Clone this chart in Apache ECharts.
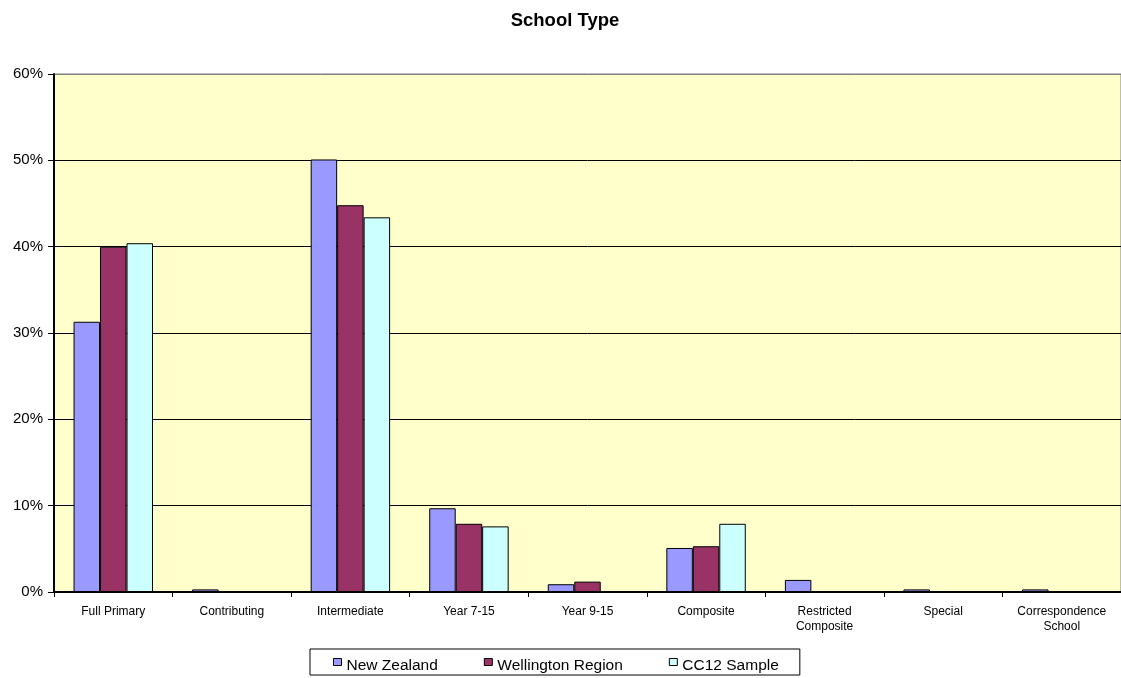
<!DOCTYPE html>
<html>
<head>
<meta charset="utf-8">
<script src="https://cdn.jsdelivr.net/npm/echarts@6/dist/echarts.min.js"></script>
<style>
  html, body { margin: 0; padding: 0; background: #ffffff; }
  #chart { width: 1121px; height: 678px; }
</style>
</head>
<body>
<div id="chart"></div>
<script>
// School type shares (percent of schools)
const categories = [
  'Full Primary', 'Contributing', 'Intermediate', 'Year 7-15', 'Year 9-15',
  'Composite', 'Restricted\nComposite', 'Special', 'Correspondence\nSchool'
];
const newZealand = [31.3, 0.3, 50.1, 9.7, 0.9, 5.1, 1.4, 0.3, 0.3];
const wellingtonRegion = [40.0, 0, 44.8, 7.9, 1.2, 5.3, 0, 0, 0];
const cc12Sample = [40.4, 0, 43.4, 7.6, 0, 7.9, 0, 0, 0];
const seriesNames = ['New Zealand', 'Wellington Region', 'CC12 Sample'];
const seriesColors = ['#9999FF', '#993366', '#CCFFFF'];
const yTicks = [0, 10, 20, 30, 40, 50, 60];

const font = '"Liberation Sans", Arial, sans-serif';

const chart = echarts.init(document.getElementById('chart'), null, { renderer: 'canvas' });

function barSeries(name, data, color) {
  return {
    name: name,
    type: 'bar',
    data: data,
    barGap: '0%',
    barCategoryGap: '33%',
    itemStyle: { color: color, borderColor: '#000000', borderWidth: 1 },
    emphasis: { disabled: true }
  };
}

chart.setOption({
  animation: false,
  backgroundColor: '#ffffff',
  title: {
    text: 'School Type',
    left: 565,
    textAlign: 'center',
    top: 11,
    padding: 0,
    textStyle: { fontFamily: font, fontSize: 18.5, fontWeight: 'bold', color: '#000000' }
  },
  grid: {
    left: 54,
    right: -1,
    top: 74,
    bottom: 86,
    show: true,
    backgroundColor: '#FFFFCC',
    borderColor: '#808080',
    borderWidth: 1
  },
  legend: {
    data: seriesNames,
    left: 310,
    top: 649,
    orient: 'horizontal',
    padding: [1, 21, 1, 23],
    itemGap: 46,
    itemWidth: 8,
    itemHeight: 7,
    borderColor: '#000000',
    borderWidth: 1,
    backgroundColor: '#ffffff',
    icon: 'rect',
    itemStyle: { borderColor: '#000000', borderWidth: 1 },
    formatter: '{t|{name}}',
    textStyle: {
      fontFamily: font, fontSize: 15.5, color: '#000000',
      rich: {
        t: {
          fontFamily: font, fontSize: 15.5, color: '#000000',
          lineHeight: 16, padding: [8, 0, 0, 0]
        }
      }
    },
    selectedMode: false
  },
  xAxis: {
    type: 'category',
    data: categories,
    boundaryGap: true,
    axisLine: { show: true, lineStyle: { color: '#000000', width: 2 } },
    axisTick: { show: true, length: 5, lineStyle: { color: '#000000', width: 1 } },
    axisLabel: {
      fontFamily: font, fontSize: 12, color: '#000000',
      margin: 12, lineHeight: 15, interval: 0
    },
    splitLine: { show: false }
  },
  yAxis: {
    type: 'value',
    min: yTicks[0],
    max: yTicks[yTicks.length - 1],
    interval: 10,
    axisLine: { show: true, lineStyle: { color: '#000000', width: 2 } },
    axisTick: { show: true, length: 6, lineStyle: { color: '#000000', width: 1 } },
    axisLabel: {
      fontFamily: font, fontSize: 15, color: '#000000', margin: 11,
      formatter: '{value}%'
    },
    splitLine: {
      show: true,
      lineStyle: {
        color: ['#000000', '#000000', '#000000', '#000000', '#000000', '#000000', '#808080'],
        width: 1
      }
    }
  },
  series: [
    barSeries(seriesNames[0], newZealand, seriesColors[0]),
    barSeries(seriesNames[1], wellingtonRegion, seriesColors[1]),
    barSeries(seriesNames[2], cc12Sample, seriesColors[2])
  ]
});
</script>
</body>
</html>
